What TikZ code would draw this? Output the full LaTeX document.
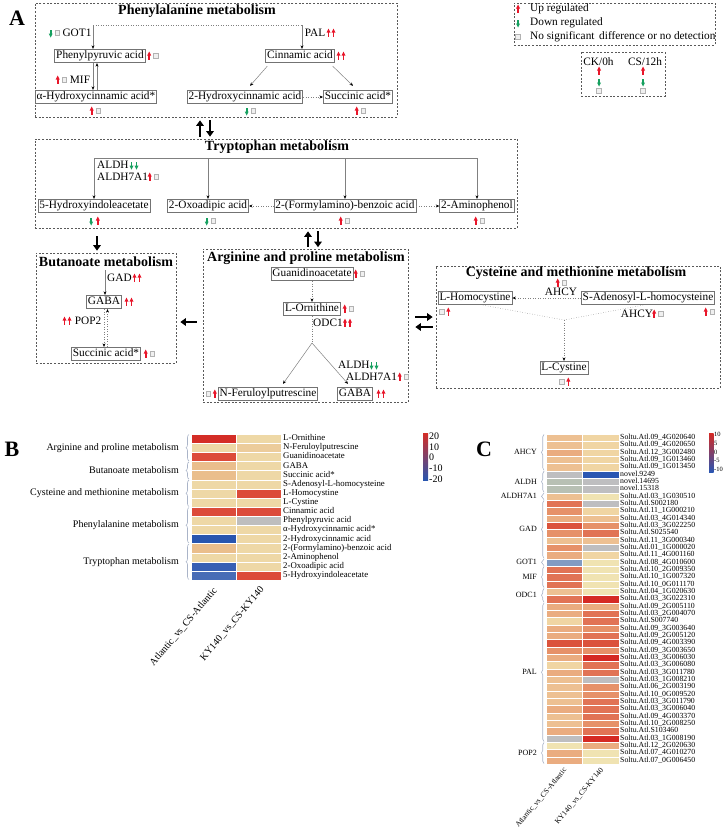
\documentclass[tikz,border=0pt]{standalone}
\usepackage{fontspec}
\setmainfont{Liberation Serif}
\usepackage{tikz}
\usetikzlibrary{positioning}
\usetikzlibrary{arrows.meta}
\usetikzlibrary{calc,decorations.pathreplacing}
\definecolor{upred}{RGB}{232,22,42}
\definecolor{dngreen}{RGB}{22,160,95}
\definecolor{bracegray}{RGB}{170,180,200}
% heat map B
\definecolor{b1}{RGB}{212,45,38}
\definecolor{b2}{RGB}{220,75,58}
\definecolor{b3}{RGB}{234,190,140}
\definecolor{b4}{RGB}{238,216,166}
\definecolor{b5}{RGB}{236,204,155}
\definecolor{bg}{RGB}{190,190,190}
\definecolor{bb1}{RGB}{40,85,175}
\definecolor{bb2}{RGB}{55,95,180}
\definecolor{bb3}{RGB}{72,108,182}
% heat map C
\definecolor{c1}{RGB}{213,42,36}
\definecolor{c2}{RGB}{219,82,60}
\definecolor{c3}{RGB}{225,115,85}
\definecolor{c4}{RGB}{230,145,105}
\definecolor{c5}{RGB}{234,172,128}
\definecolor{c6}{RGB}{237,192,146}
\definecolor{c7}{RGB}{240,213,163}
\definecolor{c8}{RGB}{240,227,178}
\definecolor{cg}{RGB}{190,190,192}
\definecolor{cgg}{RGB}{184,192,180}
\definecolor{cbg}{RGB}{130,155,195}
\definecolor{cbl}{RGB}{42,86,178}
\newcommand{\fsz}[1]{\fontsize{#1}{#1}\selectfont}

\tikzset{
  region/.style={draw=black!65, dash pattern=on 2pt off 1.6pt, line width=0.7pt, inner sep=0pt},
  met/.style={draw=black!55, line width=0.8pt, inner sep=1.5pt, text height=8pt, text depth=2.5pt, font={\fsz{11.3}}},
  ttl/.style={font={\bfseries\fsz{14}}, inner sep=0pt},
  enz/.style={font={\fsz{11.3}}, inner sep=1pt},
  gline/.style={draw=black!50, line width=0.5pt},
  link/.style={gline, -{Stealth[length=3.5pt,width=3pt,color=black]}},
  dlink/.style={link, dotted},
  big/.style={line width=2.6pt, black, -{Triangle[length=5.5pt,width=7.5pt]}},
  panel/.style={font={\bfseries\fsz{22}}, inner sep=0pt},
  hlab/.style={anchor=west, inner sep=0pt, text height=6pt, text depth=1.8pt, font={\fsz{8.8}}},
  clab/.style={anchor=west, inner sep=0pt, text height=5pt, text depth=1.4pt, font={\fsz{7.8}}},
  brc/.style={draw=bracegray, line width=0.6pt, decorate, decoration={brace, amplitude=3pt}},
  pics/up/.style={code={
    \fill[upred] (-0.8,3.5) rectangle (0.8,-1);
    \fill[upred] (0,-4.5) -- (-2,-0.5) -- (2,-0.5) -- cycle;}},
  pics/dn/.style={code={
    \fill[dngreen] (-0.8,-3.5) rectangle (0.8,1);
    \fill[dngreen] (0,4.5) -- (-2,0.5) -- (2,0.5) -- cycle;}},
  pics/ns/.style={code={
    \draw[gray!60, line width=0.5pt, fill=gray!12] (-2.3,-2.3) rectangle (2.3,2.3);}},
  pics/mk/.style 2 args={code={\pic at (-3.3,0) {#1}; \pic at (3.3,0) {#2};}},
  pics/mm/.style={code={\pic at (-2.5,0) {#1}; \pic at (2.5,0) {#1};}},
}

\begin{document}
\begin{tikzpicture}[x=1pt, y=-1pt]
	\useasboundingbox (0,0) rectangle (723,831);
	\node[panel] (labA) at (17,18) {A};

	% pathway regions
	\node[region, minimum width=362pt, minimum height=114pt] (rphe) at (216,60) {};
	\node[region, minimum width=482pt, minimum height=89pt] (rtrp) at (276,183.5) {};
	\node[region, minimum width=140pt, minimum height=110pt] (rbut) at (106,308) {};
	\node[region, minimum width=205pt, minimum height=153pt] (rarg) at (305.5,325.5) {};
	\node[region, minimum width=284pt, minimum height=122pt] (rcys) at (578,327) {};
	\node[region, minimum width=201pt, minimum height=42pt] (rleg) at (614.5,24) {};
	\node[region, minimum width=84pt, minimum height=44pt] (rset) at (623,74) {};

	\node[ttl] (tphe) at (197,11) {Phenylalanine metabolism};
	\node[ttl] (ttrp) at (277,147) {Tryptophan metabolism};
	\node[ttl] (tbut) at (106,262) {Butanoate metabolism};
	\node[ttl] (targ) at (306,258) {Arginine and proline metabolism};
	\node[ttl] (tcys) at (576,273) {Cysteine and methionine metabolism};

	% legend
	\pic at (518,9) {up};
	\pic at (518,23) {dn};
	\pic at (518,37) {ns};
	\node[enz, anchor=west] (lgup) at (529,9) {Up regulated};
	\node[enz, anchor=west] (lgdn) at (529,23) {Down regulated};
	\node[enz, anchor=west] (lgns) at (529,37) {No significant\, difference or no detection};
	\node[enz] (ck) at (598.5,62) {CK/0h};
	\node[enz] (cs) at (645,62) {CS/12h};
	\foreach \x in {599,643} {
		\pic at (\x,71) {up};
		\pic at (\x,82) {dn};
		\pic at (\x,91) {ns};
	}

	% phenylalanine
	\node[met] (phpy) at (100,56) {Phenylpyruvic acid};
	\node[met] (cinn) at (300,56) {Cinnamic acid};
	\node[met] (ahyd) at (96,97) {α-Hydroxycinnamic acid*};
	\node[met] (hyd2) at (245,97) {2-Hydroxycinnamic acid};
	\node[met] (succ) at (358,97) {Succinic acid*};
	\node[enz] (got1) at (77,33) {GOT1};
	\node[enz] (pal) at (315,33) {PAL};
	\node[enz] (mif) at (80,80) {MIF};
	\coordinate (jphe1) at (93,25);
	\coordinate (jphe2) at (302,25);
	\draw[gline, dotted] (jphe1) -- (jphe2);
	\draw[link] (jphe1) -- (jphe1 |- phpy.north);
	\draw[link] (jphe2) -- (jphe2 |- cinn.north);
	\draw[link] ($(phpy.south)+(-7,0)$) -- ($(phpy.south |- ahyd.north)+(-7,0)$);
	\draw[link] ($(phpy.south |- ahyd.north)+(-3,0)$) -- ($(phpy.south)+(-3,0)$);
	\draw[link] ([shift={(2pt,-3pt)}]cinn.south west) -- ([shift={(5pt,4pt)}]hyd2.north);
	\draw[link] ([shift={(-2pt,-3pt)}]cinn.south east) -- ([shift={(-5pt,4pt)}]succ.north);
	\draw[dlink] (hyd2) -- (succ);
	\pic at (54,33) {mk={dn}{ns}};
	\pic at (331,33) {mm=up};
	\pic at (61,80) {mk={up}{ns}};
	\pic at (152.5,56) {mk={up}{ns}};
	\pic at (341,56) {mm=up};
	\pic at (95,111) {mk={up}{ns}};
	\pic at (250,111) {mk={dn}{ns}};
	\pic at (360,111) {mk={up}{ns}};

	% tryptophan
	\node[met] (hiaa) at (94,206) {5-Hydroxyindoleacetate};
	\node[met] (oxad) at (208,206) {2-Oxoadipic acid};
	\node[met] (fbza) at (345,206) {2-(Formylamino)-benzoic acid};
	\node[met] (amph) at (477,206) {2-Aminophenol};
	\node[enz, anchor=west] (aldh1) at (96,165) {ALDH};
	\node[enz, anchor=west] (aldh71) at (96,177) {ALDH7A1};
	\coordinate (ttop) at (0,158);
	\draw[gline] (hiaa.north |- ttop) -- (amph.north |- ttop);
	\foreach \n in {hiaa,oxad,fbza,amph}
		\draw[link] (\n.north |- ttop) -- (\n.north);
	\draw[dlink] (fbza) -- (oxad);
	\draw[dlink] (fbza) -- (amph);
	\pic at (134,165) {mm=dn};
	\pic at (153,177) {mk={up}{ns}};
	\pic at (94.5,221) {mk={dn}{up}};
	\pic at (210,221) {mk={dn}{ns}};
	\pic at (344,221) {mk={up}{ns}};
	\pic at (479,221) {mk={up}{ns}};

	% butanoate
	\node[met] (gaba1) at (104,302) {GABA};
	\node[met] (succ2) at (106,354) {Succinic acid*};
	\node[enz, anchor=west] (gad) at (106,278) {GAD};
	\node[enz] (pop2) at (88,321) {POP2};
	\coordinate (gadtop) at (105,270);
	\draw[link] (gadtop) -- (gadtop |- gaba1.north);
	\draw[dlink] (gaba1.south) -- (gaba1.south |- succ2.north);
	\draw[dlink] ($(gaba1.south |- succ2.north)+(3.5,0)$) -- ($(gaba1.south)+(3.5,0)$);
	\pic at (137,278) {mm=up};
	\pic at (129,302) {mm=up};
	\pic at (67,321) {mm=up};
	\pic at (149,354) {mk={up}{ns}};

	% arginine and proline
	\node[met] (guan) at (312,274) {Guanidinoacetate};
	\node[met] (orn) at (312,309) {L-Ornithine};
	\node[met] (feru) at (268,394) {N-Feruloylputrescine};
	\node[met] (gaba2) at (355,394) {GABA};
	\node[enz] (odc1) at (328,323) {ODC1};
	\node[enz, anchor=west] (aldh2) at (337,365) {ALDH};
	\node[enz, anchor=west] (aldh72) at (345,377) {ALDH7A1};
	\coordinate (obr) at (312,343);
	\draw[dlink] (guan) -- (orn);
	\draw[gline, dotted] (orn.south) -- (obr);
	\draw[link] (obr) -- ([shift={(15pt,3pt)}]feru.north);
	\draw[link] (obr) -- ([shift={(-7pt,3pt)}]gaba2.north);
	\pic at (359,274) {mk={up}{ns}};
	\pic at (348,309) {mk={up}{ns}};
	\pic at (347.5,323) {mm=up};
	\pic at (374,365) {mm=dn};
	\pic at (403,377) {mk={up}{ns}};
	\pic at (211.5,394) {mk={ns}{up}};
	\pic at (381,394) {mm=up};

	% cysteine and methionine
	\node[met] (hcys) at (475,298) {L-Homocystine};
	\node[met] (sahc) at (648,298) {S-Adenosyl-L-homocysteine};
	\node[met] (cyst) at (564,368) {L-Cystine};
	\node[enz] (ahcy1) at (561,292) {AHCY};
	\node[enz] (ahcy2) at (637,314) {AHCY};
	\coordinate (cjn) at (564,320);
	\draw[dlink] (sahc) -- (hcys);
	\draw[gline, dotted] ([xshift=8pt]hcys.south) -- (cjn);
	\draw[gline, dotted] ([xshift=-5pt]sahc.south) -- (cjn);
	\draw[dlink] (cjn) -- (cyst.north);
	\pic at (561,283) {mk={up}{ns}};
	\pic at (657.5,314) {mk={up}{ns}};
	\pic at (709,312) {mk={up}{ns}};
	\pic at (445,312) {mk={ns}{up}};
	\pic at (565,382) {mk={ns}{up}};

	% links between pathways
	\draw[big] ([shift={(-76pt,2pt)}]rtrp.north) -- ([shift={(-16pt,-3pt)}]rphe.south);
	\draw[big] ([shift={(-6pt,-3pt)}]rphe.south) -- ([shift={(-66pt,2pt)}]rtrp.north);
	\draw[big] ([shift={(-179pt,-8pt)}]rtrp.south) -- ([shift={(-9pt,2pt)}]rbut.north);
	\draw[big] ([shift={(2.5pt,1.5pt)}]rarg.north) -- ([shift={(32pt,-3pt)}]rtrp.south);
	\draw[big] ([shift={(42pt,-3pt)}]rtrp.south) -- ([shift={(12.5pt,1.5pt)}]rarg.north);
	\draw[big] ([shift={(-6pt,3.5pt)}]rarg.west) -- ([shift={(4pt,-14pt)}]rbut.east);
	\draw[big] ([shift={(7pt,8.5pt)}]rarg.east) -- ([shift={(-3pt,10pt)}]rcys.west);
	\draw[big] ([shift={(-3pt,0pt)}]rcys.west) -- ([shift={(7pt,-1.5pt)}]rarg.east);

	% heat map B
	\node[panel] (labB) at (12,449) {B};
	\foreach \ca/\cb/\lab [count=\i from 0] in {
		b1/b4/L-Ornithine, b4/b5/N-Feruloylputrescine, b2/b4/Guanidinoacetate,
		b3/b4/GABA, b3/b4/Succinic acid*, b4/b4/S-Adenosyl-L-homocysteine,
		b4/b2/L-Homocystine, b4/b4/L-Cystine, b2/b2/Cinnamic acid,
		b4/bg/Phenylpyruvic acid, b4/b4/α-Hydroxycinnamic acid*,
		bb1/b4/2-Hydroxycinnamic acid, b3/b4/2-(Formylamino)-benzoic acid,
		b4/b4/2-Aminophenol, bb2/b4/2-Oxoadipic acid, bb3/b2/5-Hydroxyindoleacetate} {
		\filldraw[fill=\ca, draw=white, line width=0.25pt] (191,{434+9.125*\i}) rectangle (236,{443.125+9.125*\i});
		\filldraw[fill=\cb, draw=white, line width=0.25pt] (236,{434+9.125*\i}) rectangle (281,{443.125+9.125*\i});
		\node[hlab] (bl\i) at (283,{438.56+9.125*\i}) {\lab};
	}
	\foreach \g/\ra/\rb [count=\k] in {Arginine and proline metabolism/0/3,
		Butanoate metabolism/3/5, Cysteine and methionine metabolism/5/8,
		Phenylalanine metabolism/8/12, Tryptophan metabolism/12/16} {
		\draw[brc] (189,{433.5+9.125*\rb}) -- (189,{434.5+9.125*\ra});
		\node[anchor=east, inner sep=0pt, font={\fsz{10}}] (bg\k) at (179,{434+9.125*(\ra+\rb)/2}) {\g};
	}
	\node[rotate=50, anchor=east, font={\fsz{10}}, inner sep=1pt] (bxa) at (216,588) {Atlantic\_vs\_CS-Atlantic};
	\node[rotate=50, anchor=east, font={\fsz{10}}, inner sep=1pt] (bxk) at (263,587) {KY140\_vs\_CS-KY140};
	\shade[top color=b1, middle color=b4, bottom color=bb1] (423,433) rectangle (428,480);
	\foreach \v [count=\k from 0] in {20,10,0,-10,-20}
		\node[anchor=west, inner sep=0pt, font={\fsz{10}}] (bs\k) at (429,{436+10.75*\k}) {\v};

	% heat map C
	\node[panel] (labC) at (484,449) {C};
	\foreach \ca/\cb/\lab [count=\i from 0] in {
		c6/c7/Soltu.Atl.09\_4G020640, c6/c7/Soltu.Atl.09\_4G020650,
		c5/c7/Soltu.Atl.12\_3G002480, c6/c7/Soltu.Atl.09\_1G013460,
		c6/c7/Soltu.Atl.09\_1G013450, cg/cbl/novel.9249,
		cgg/cg/novel.14695, cgg/cg/novel.15318,
		c6/c8/Soltu.Atl.03\_1G030510, c3/cg/Soltu.Atl.S002180,
		c4/c7/Soltu.Atl.11\_1G000210, c5/c6/Soltu.Atl.03\_4G014340,
		c2/c4/Soltu.Atl.03\_3G022250, c4/c3/Soltu.Atl.S025540,
		c6/c6/Soltu.Atl.11\_3G000340, c4/cg/Soltu.Atl.01\_1G000020,
		c5/c7/Soltu.Atl.11\_4G001160, cbg/c8/Soltu.Atl.08\_4G010600,
		c3/c8/Soltu.Atl.10\_2G009350, c3/c8/Soltu.Atl.10\_1G007320,
		c3/c8/Soltu.Atl.10\_0G011170, c6/c8/Soltu.Atl.04\_1G020630,
		c3/c1/Soltu.Atl.03\_3G022310, c5/c5/Soltu.Atl.09\_2G005110,
		c5/c3/Soltu.Atl.03\_2G004070, c7/c3/Soltu.Atl.S007740,
		c5/c4/Soltu.Atl.09\_3G003640, c5/c3/Soltu.Atl.09\_2G005120,
		c2/c2/Soltu.Atl.09\_4G003390, c4/c4/Soltu.Atl.09\_3G003650,
		c5/c1/Soltu.Atl.03\_3G006030, c7/c3/Soltu.Atl.03\_3G006080,
		c5/c3/Soltu.Atl.03\_3G011780, c6/cg/Soltu.Atl.03\_1G008210,
		c6/c4/Soltu.Atl.06\_2G003190, c6/c4/Soltu.Atl.10\_0G009520,
		c6/c3/Soltu.Atl.03\_3G011790, c5/c3/Soltu.Atl.03\_3G006040,
		c6/c3/Soltu.Atl.09\_4G003370, c6/c4/Soltu.Atl.10\_2G008250,
		c5/c3/Soltu.Atl.S103460, cg/c1/Soltu.Atl.03\_1G008190,
		c8/c5/Soltu.Atl.12\_2G020630, c5/c8/Soltu.Atl.07\_4G010270,
		c5/c8/Soltu.Atl.07\_0G006450} {
		\filldraw[fill=\ca, draw=white, line width=0.2pt] (546,{434+7.333*\i}) rectangle (582,{441.333+7.333*\i});
		\filldraw[fill=\cb, draw=white, line width=0.2pt] (582,{434+7.333*\i}) rectangle (619,{441.333+7.333*\i});
		\node[clab] (cl\i) at (620,{437.67+7.333*\i}) {\lab};
	}
	\foreach \g/\ra/\rb [count=\k] in {AHCY/0/5, ALDH/5/8, ALDH7A1/8/9, GAD/9/17,
		GOT1/17/18, MIF/18/21, ODC1/21/23, PAL/23/42, POP2/42/45} {
		\draw[brc, decoration={brace, amplitude=2.5pt}] (544,{433.6+7.333*\rb}) -- (544,{434.4+7.333*\ra});
		\node[anchor=east, inner sep=0pt, font={\fsz{8}}] (cg\k) at (537,{434+7.333*(\ra+\rb)/2}) {\g};
	}
	\node[rotate=50, anchor=east, font={\fsz{7.6}}, inner sep=1pt] (cxa) at (566,768) {Atlantic\_vs\_CS-Atlantic};
	\node[rotate=50, anchor=east, font={\fsz{7.6}}, inner sep=1pt] (cxk) at (603,768) {KY140\_vs\_CS-KY140};
	\shade[top color=c1, middle color=c7, bottom color=cbl] (709,433) rectangle (713.5,472);
	\foreach \v [count=\k from 0] in {10,5,0,-5,-10}
		\node[anchor=west, inner sep=0pt, font={\fsz{6.5}}] (cs\k) at (714,{434.5+8.75*\k}) {\v};
\end{tikzpicture}
\end{document}
